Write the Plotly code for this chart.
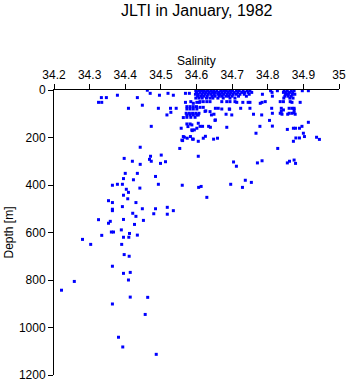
import plotly.graph_objects as go

# Salinity / depth samples
sal_deep = [34.462,34.47,34.496,34.52,34.535,34.569,34.58,
 34.333,34.347,34.378,34.434,34.325,34.334,34.448,34.409,34.493,34.527,34.543,34.528,34.517,34.569,34.473,34.557,34.442,34.471,34.468,34.473,34.501,34.513,34.499,34.397,34.42,34.442,34.553,34.561,
 34.4,34.434,34.395,34.423,34.485,34.364,34.378,34.392,34.493,34.56,34.606,34.613,34.403,34.409,34.395,34.441,34.407,34.353,34.364,34.43,34.392,34.364,34.364,34.448,34.485,34.518,34.535,34.421,34.48,34.518,34.43,34.325,34.358,34.353,34.395,34.451,34.426,34.389,
 34.361,34.367,34.412,34.434,34.395,34.41,34.28,34.334,34.303,34.39,34.397,34.411,34.364,34.395,34.414,34.409,34.257,34.221,34.414,34.463,34.364,34.456,34.381,34.393,34.487]
dep_deep = [1,14,22,14,22,14,14,
 32,32,22,32,52,52,64,77,77,77,77,94,105,52,153,161,241,279,292,300,274,302,309,288,300,313,246,213,
 351,351,373,378,364,401,397,397,397,401,410,406,418,431,443,413,458,466,474,474,491,502,508,500,500,494,508,519,521,523,532,546,553,561,545,549,566,589,
 598,598,604,611,620,620,629,612,650,650,693,700,742,772,768,800,806,843,872,873,901,945,1041,1082,1113]

sal_mid = [34.629,34.704,34.712,34.737,34.729,34.696,34.754,34.771,34.784,34.861,34.855,34.878,34.874,34.605,34.828,34.937,34.945,34.9,34.903,34.879,34.889,34.872,34.914,34.896,34.889,34.872,34.878,34.855,34.767,34.778,34.813,34.685,34.659,34.648,34.625,34.619,34.605,34.589,34.563,34.559,34.587,34.594,34.573,34.582,34.587,34.601,34.605,34.61,34.617,34.634,34.639,34.576,34.588,34.566,34.574,34.583,34.591,34.563,34.652,34.805]
dep_mid = [452,303,321,380,410,397,389,307,298,300,307,309,295,279,246,199,208,182,196,202,202,216,136,153,161,161,161,166,182,153,152,157,203,207,195,203,216,207,196,211,168,168,143,143,147,161,140,153,153,153,157,154,171,199,203,196,207,116,128,128]

sal_upper = [34.584,34.591,34.601,34.608,34.61,34.619,34.629,34.638,34.671,34.685,34.694,34.708,34.713,34.73,34.745,34.75,34.779,34.784,34.793,34.835,34.844,34.863,34.868,34.891,
 34.573,34.582,34.591,34.6,34.61,34.619,34.626,34.573,34.582,34.591,34.601,34.653,34.661,34.671,34.692,34.693,34.724,34.75,34.811,34.838,34.844,34.86,34.868,34.874,34.874,34.638,
 34.571,34.58,34.589,34.598,34.607,34.573,34.582,34.591,34.601,34.605,34.642,34.649,34.624,34.683,34.699,34.76,34.783,34.813,34.84,34.856,34.877,34.838,34.835,34.86,34.868,34.874,
 34.573,34.584,34.596,34.653]
dep_upper = [49,56,52,52,49,49,49,49,49,49,49,49,52,52,52,52,56,52,49,49,49,49,52,52,
 70,70,70,70,73,73,88,80,80,80,80,77,77,80,80,81,77,77,77,77,84,77,77,77,84,91,
 98,98,98,98,98,105,105,105,105,105,105,102,90,102,105,102,105,98,102,102,102,90,98,98,98,95,
 115,115,115,126]

sal_top = [34.598,34.606,34.614,34.622,34.631,34.640,34.648,34.657,34.668,34.676,34.684,34.693,34.701,34.712,34.72,34.731,34.742,34.75,34.808,34.827,34.846,34.855,34.866,34.874,34.897,34.914,
 34.6,34.61,34.619,34.627,34.636,34.645,34.653,34.662,34.671,34.68,34.689,34.697,34.706,34.716,34.727,34.735,34.745,34.755,34.812,34.844,34.852,34.861,34.87,
 34.597,34.605,34.615,34.624,34.633,34.641,34.65,34.66,34.667,34.676,34.686,34.694,34.703,34.712,34.722,34.734,34.748,34.785,34.85,34.858,34.869,34.876,
 34.603,34.612,34.62,34.63,34.644,34.652,34.664,34.672,34.683,34.69,34.7,34.718,34.74,34.813,34.848,34.857,34.866,
 34.598,34.607,34.616,34.628,34.638,34.646,34.66,34.675,34.694,34.708,34.845,34.862,34.871]
dep_top = [3]*26 + [10]*23 + [18]*22 + [26]*17 + [34]*13

salinity = sal_deep + sal_mid + sal_upper + sal_top
depth = dep_deep + dep_mid + dep_upper + dep_top

x_ticks = [34.2, 34.3, 34.4, 34.5, 34.6, 34.7, 34.8, 34.9, 35.0]
x_tick_text = ["34.2", "34.3", "34.4", "34.5", "34.6", "34.7", "34.8", "34.9", "35"]
y_ticks = [0, 200, 400, 600, 800, 1000, 1200]

FONT = "Liberation Sans, Arial, Helvetica, sans-serif"
W, H = 348, 384
ML, MR, MT, MB = 54, 9, 90, 9
plot_w = W - ML - MR
plot_h = H - MT - MB

fig = go.Figure(go.Scatter(
    x=salinity, y=depth, mode="markers",
    marker=dict(symbol="square", size=3, color="#0000ff", line=dict(width=0)),
    hoverinfo="x+y"))

fig.update_layout(
    width=W, height=H,
    margin=dict(l=ML, r=MR, t=MT, b=MB, autoexpand=False),
    paper_bgcolor="white", plot_bgcolor="white",
    font=dict(family=FONT, size=12, color="black"),
    showlegend=False,
    xaxis=dict(side="top", range=[34.2, 35.0], tickvals=x_ticks, ticktext=x_tick_text,
               automargin=False,
               showgrid=False, zeroline=False, showline=True, linecolor="black", linewidth=1,
               ticks="outside", ticklen=5, tickwidth=1, tickcolor="black",
               tickfont=dict(size=12)),
    yaxis=dict(range=[1200, 0], tickvals=y_ticks, automargin=False,
               showgrid=False, zeroline=False, showline=True, linecolor="black", linewidth=1,
               ticks="outside", ticklen=5, tickwidth=1, tickcolor="black",
               tickfont=dict(size=12)),
    annotations=[
        dict(text="JLTI in January, 1982", x=0.5, xref="paper", xanchor="center",
             y=1 + (MT - 10) / plot_h, yref="paper", yanchor="middle",
             showarrow=False, font=dict(size=16)),
        dict(text="Salinity", x=0.5, xref="paper", xanchor="center",
             y=1 + (MT - 61) / plot_h, yref="paper", yanchor="middle",
             showarrow=False, font=dict(size=12)),
        dict(text="Depth [m]", x=-(ML - 8) / plot_w, xref="paper", xanchor="center",
             y=0.5, yref="paper", yanchor="middle",
             textangle=-90, showarrow=False, font=dict(size=12)),
    ],
)

fig.write_html("out.html", config={"displayModeBar": False},
               post_script="document.body.style.margin='0';document.body.style.overflow='hidden';")
